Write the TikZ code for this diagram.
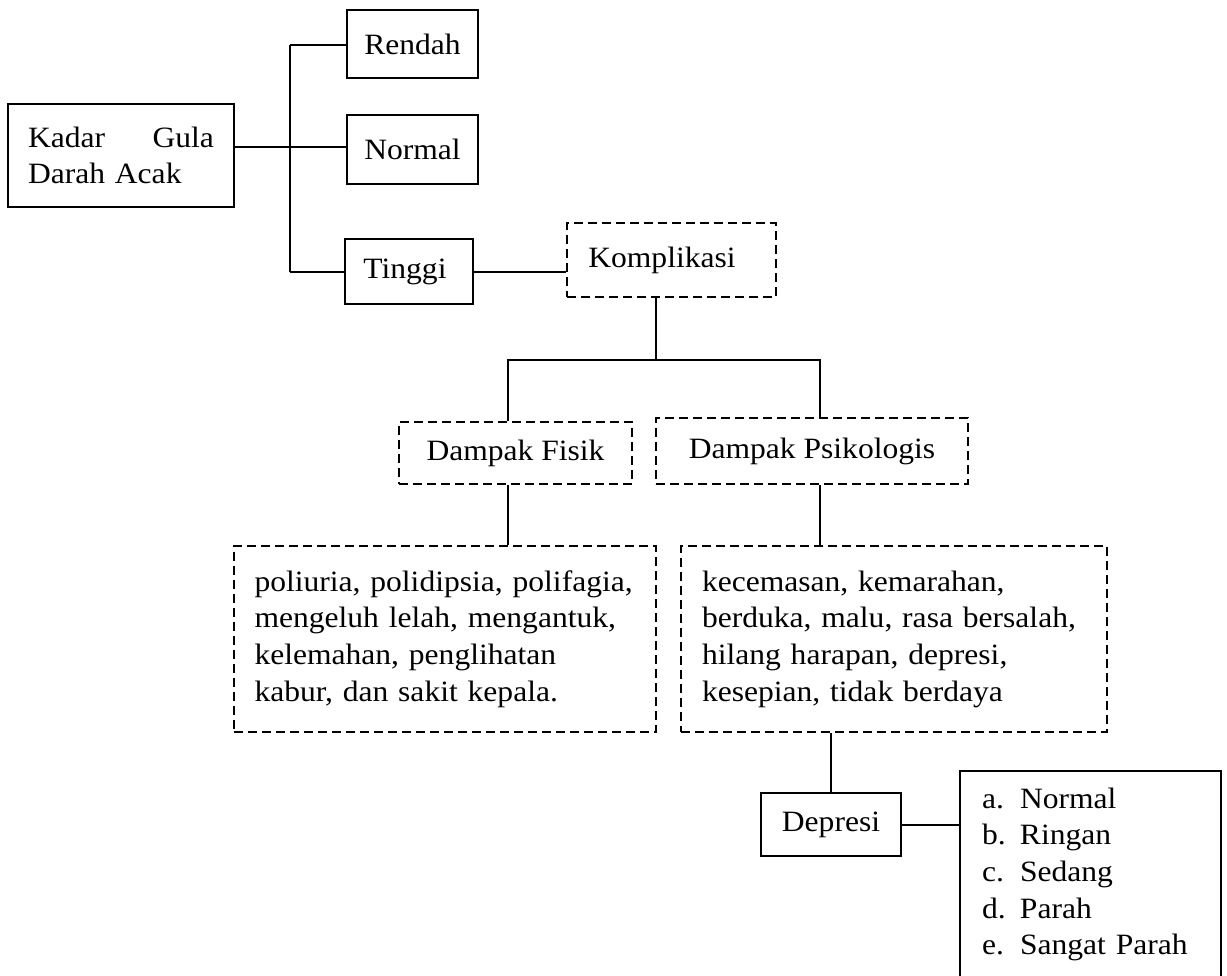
\documentclass[tikz,border=0pt]{standalone}
\usepackage{fontspec}
\setmainfont{Liberation Serif}[FakeStretch=1.07]
\begin{document}
\begin{tikzpicture}[x=1pt,y=-1pt,line width=2pt,
  box/.style={draw,font=\fontsize{29.5}{36.7}\selectfont,inner sep=0pt},
  dbox/.style={box,dash pattern=on 9pt off 5pt}]
\useasboundingbox (0,0) rectangle (1227,976);
% nodes
\node[box,minimum width=226pt,minimum height=103pt,text width=186pt,inner xsep=20pt,align=left] (kadar) at (121,155.5) {\makebox[186pt]{Kadar\hfill Gula}\\Darah Acak};
\node[box,minimum width=131pt,minimum height=68pt] (rendah) at (412.5,44) {Rendah};
\node[box,minimum width=131pt,minimum height=69pt] (normal) at (412.5,149.5) {Normal};
\node[box,minimum width=128pt,minimum height=65pt] (tinggi) at (409,271.5) {Tinggi\hspace*{8pt}};
\node[dbox,minimum width=209pt,minimum height=74pt] (kompl) at (671.5,260) {Komplikasi\hspace*{19pt}};
\node[dbox,minimum width=233pt,minimum height=62pt] (fisik) at (515.5,453) {Dampak Fisik};
\node[dbox,minimum width=312pt,minimum height=66pt] (psiko) at (812,451) {Dampak Psikologis};
\node[dbox,minimum width=422pt,minimum height=186pt,text width=381pt,inner xsep=20.5pt,align=left] (fisiktxt) at (445,639)
  {\mbox{poliuria, polidipsia, polifagia,}\\\mbox{mengeluh lelah, mengantuk,}\\\mbox{kelemahan, penglihatan}\\\mbox{kabur, dan sakit kepala.}};
\node[dbox,minimum width=426pt,minimum height=186pt,text width=384pt,inner xsep=21pt,align=left] (psikotxt) at (894,639)
  {\mbox{kecemasan, kemarahan,}\\\mbox{berduka, malu, rasa bersalah,}\\\mbox{hilang harapan, depresi,}\\\mbox{kesepian, tidak berdaya}};
\node[box,minimum width=140pt,minimum height=63pt] (depresi) at (831,824.5) {Depresi};
\node[box,draw=none,minimum width=259pt,minimum height=205pt,text width=217pt,inner xsep=21pt,align=left,anchor=north west] (list) at (960,771)
  {\makebox[38pt][l]{a.}Normal\\\makebox[38pt][l]{b.}Ringan\\\makebox[38pt][l]{c.}Sedang\\\makebox[38pt][l]{d.}Parah\\\makebox[38pt][l]{e.}Sangat Parah};
% connectors
\coordinate (bt) at (290,45);
\coordinate (bm) at (290,147);
\coordinate (bb) at (290,272);
\draw (bt) -- (bb);
\draw (bt) -- (bt -| rendah.west);
\draw (kadar.east |- bm) -- (bm) -- (bm -| normal.west);
\draw (bb) -- (bb -| tinggi.west);
\draw (tinggi.east |- bb) -- (bb -| kompl.west);
\coordinate (kj) at (656,360);
\coordinate (kl) at (508,360);
\coordinate (kr) at (820,360);
\draw (kj |- kompl.south) -- (kj);
\draw (kl |- fisik.north) -- (kl) -- (kr) -- (kr |- psiko.north);
\draw (kl |- fisik.south) -- (kl |- fisiktxt.north);
\draw (kr |- psiko.south) -- (kr |- psikotxt.north);
\draw (depresi.north |- psikotxt.south) -- (depresi.north);
\draw (depresi.east) -- (depresi.east -| list.west);
\draw (list.south west) -- (list.north west) -- (list.north east) -- (list.south east);
\end{tikzpicture}
\end{document}
